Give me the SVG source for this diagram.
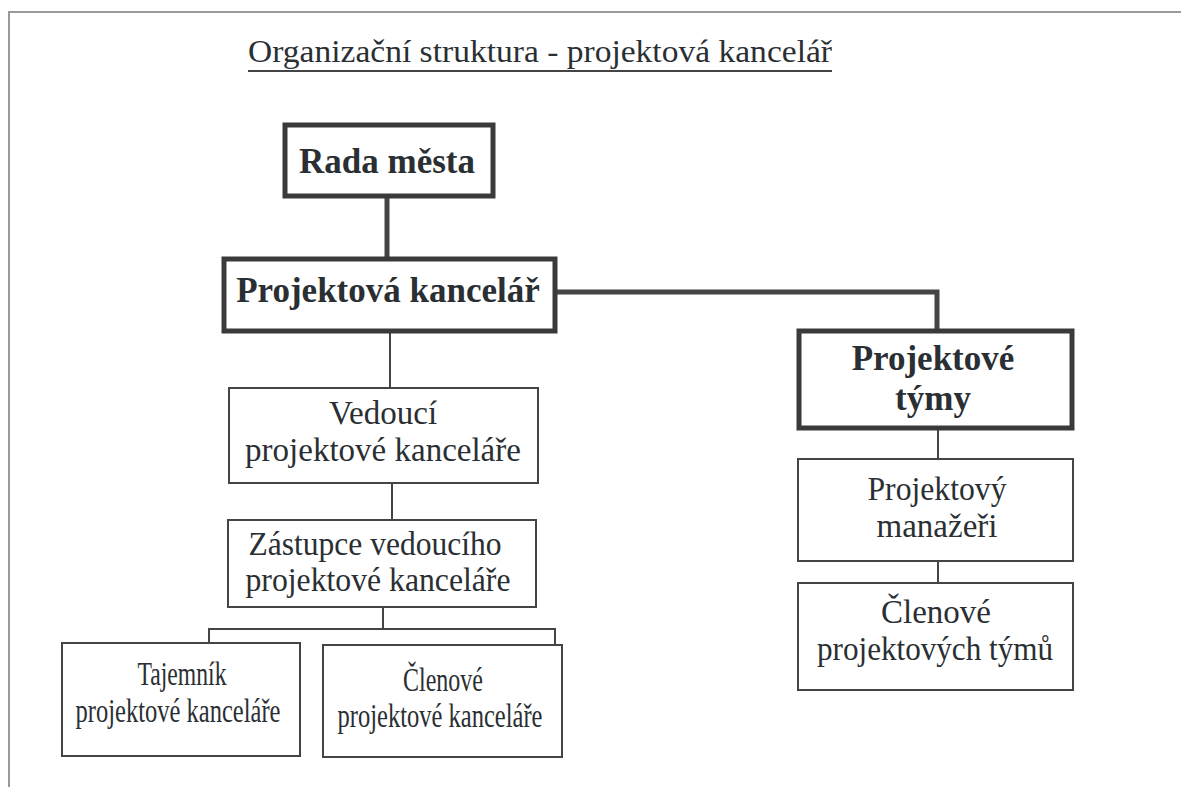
<svg xmlns="http://www.w3.org/2000/svg" width="1181" height="787" viewBox="0 0 1181 787">
<style>
.t{font-family:"Liberation Serif","Times New Roman",serif;fill:#2a2f33;text-anchor:middle}
.r{font-size:33px}
.b{font-size:35px;font-weight:bold}
.thick{fill:#fff;stroke:#3a3a3a;stroke-width:5}
.thin{fill:#fff;stroke:#444;stroke-width:2}
.c{fill:none;stroke:#444;stroke-width:2}
.ct{fill:none;stroke:#444;stroke-width:5}
</style>
<rect width="1181" height="787" fill="#fff"/>
<path d="M9 787 V12 H1181" fill="none" stroke="#9a9a9a" stroke-width="2"/>
<g id="title">
<text class="t" x="540" y="62" font-size="32" textLength="584" lengthAdjust="spacingAndGlyphs">Organizační struktura - projektová kancelář</text>
<line x1="248" y1="71" x2="832" y2="71" stroke="#444" stroke-width="2"/>
</g>
<g id="connectors">
<line class="ct" x1="387" y1="198" x2="387" y2="257"/>
<polyline class="ct" points="557,292 937,292 937,329"/>
<line class="c" x1="390" y1="333" x2="390" y2="388"/>
<line class="c" x1="392" y1="483" x2="392" y2="520"/>
<polyline class="c" points="383,607 383,629"/>
<polyline class="c" points="209,643 209,629 555,629 555,646"/>
<line class="c" x1="938" y1="430" x2="938" y2="459"/>
<line class="c" x1="938" y1="561" x2="938" y2="583"/>
</g>
<g id="rada">
<rect class="thick" x="285" y="125" width="208" height="71"/>
<text class="t b" x="387" y="173">Rada města</text>
</g>
<g id="kancelar">
<rect class="thick" x="224" y="259" width="331" height="72"/>
<text class="t b" x="388" y="302">Projektová kancelář</text>
</g>
<g id="vedouci">
<rect class="thin" x="229" y="388" width="309" height="95"/>
<text class="t r" x="383" y="424">Vedoucí</text>
<text class="t r" x="383" y="461">projektové kanceláře</text>
</g>
<g id="zastupce">
<rect class="thin" x="228" y="520" width="308" height="87"/>
<text class="t r" x="375" y="555" textLength="253" lengthAdjust="spacingAndGlyphs">Zástupce vedoucího</text>
<text class="t r" x="378" y="591" textLength="265" lengthAdjust="spacingAndGlyphs">projektové kanceláře</text>
</g>
<g id="tajemnik">
<rect class="thin" x="62" y="643" width="238" height="113"/>
<text class="t r" x="182" y="685" textLength="89" lengthAdjust="spacingAndGlyphs">Tajemník</text>
<text class="t r" x="178" y="722" textLength="205" lengthAdjust="spacingAndGlyphs">projektové kanceláře</text>
</g>
<g id="clenove-kancelare">
<rect class="thin" x="323" y="645" width="239" height="112"/>
<text class="t r" x="443" y="691" textLength="80" lengthAdjust="spacingAndGlyphs">Členové</text>
<text class="t r" x="440" y="727" textLength="205" lengthAdjust="spacingAndGlyphs">projektové kanceláře</text>
</g>
<g id="tymy">
<rect class="thick" x="799" y="331" width="273" height="97"/>
<text class="t b" x="933" y="370">Projektové</text>
<text class="t b" x="933" y="410">týmy</text>
</g>
<g id="manazeri">
<rect class="thin" x="798" y="459" width="275" height="102"/>
<text class="t r" x="937" y="500" textLength="139" lengthAdjust="spacingAndGlyphs">Projektový</text>
<text class="t r" x="937" y="537">manažeři</text>
</g>
<g id="clenove-tymu">
<rect class="thin" x="798" y="583" width="275" height="107"/>
<text class="t r" x="936" y="623">Členové</text>
<text class="t r" x="935" y="660" textLength="236" lengthAdjust="spacingAndGlyphs">projektových týmů</text>
</g>
</svg>
